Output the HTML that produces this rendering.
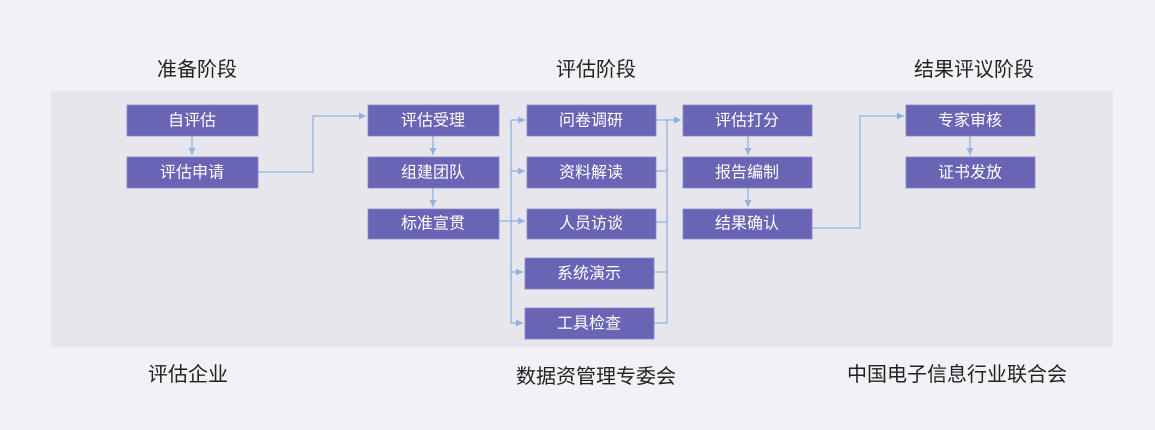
<!DOCTYPE html>
<html><head><meta charset="utf-8"><style>
html,body{margin:0;padding:0;background:#f2f1f6;}
svg{display:block;font-family:"Liberation Sans","Noto Sans CJK SC",sans-serif;}
.b{fill:#6866b4;stroke:#8a88cc;stroke-width:0.8}
.t{fill:#fff;font-size:16px;text-anchor:middle;dominant-baseline:central}
.h{fill:#222;font-size:20px;text-anchor:middle;dominant-baseline:central}
.l{stroke:#90b2e0;stroke-width:1.3;fill:none}
</style></head><body>
<svg width="1155" height="430" viewBox="0 0 1155 430">
<defs><marker id="a" markerWidth="8" markerHeight="8" refX="7" refY="4" orient="auto" markerUnits="userSpaceOnUse"><path d="M0,0.5 L7,4 L0,7.5z" fill="#90b2e0"/></marker></defs>
<rect x="0" y="0" width="1155" height="430" fill="#f2f1f6"/>
<rect x="51" y="91" width="1062" height="256" fill="#e7e6ec"/>
<text class="h" x="197" y="70">准备阶段</text>
<text class="h" x="596" y="70">评估阶段</text>
<text class="h" x="974" y="70">结果评议阶段</text>
<text class="h" x="188" y="375">评估企业</text>
<text class="h" x="596" y="377">数据资管理专委会</text>
<text class="h" x="957" y="375">中国电子信息行业联合会</text>
<path class="l" d="M192,136 V155" marker-end="url(#a)"/>
<path class="l" d="M258,172 H313 V116 H366" marker-end="url(#a)"/>
<path class="l" d="M433,136 V155" marker-end="url(#a)"/>
<path class="l" d="M433,188 V207" marker-end="url(#a)"/>
<path class="l" d="M499,221 H525" marker-end="url(#a)"/>
<path class="l" d="M511,120 V323"/>
<path class="l" d="M511,120 H525" marker-end="url(#a)"/>
<path class="l" d="M511,171 H525" marker-end="url(#a)"/>
<path class="l" d="M511,272 H523" marker-end="url(#a)"/>
<path class="l" d="M511,323 H523" marker-end="url(#a)"/>
<path class="l" d="M656,120 H667 V323"/>
<path class="l" d="M656,171 H667 M656,222 H667 M654,272 H667 M654,323 H667"/>
<path class="l" d="M667,120 H681" marker-end="url(#a)"/>
<path class="l" d="M748,136 V155" marker-end="url(#a)"/>
<path class="l" d="M748,188 V207" marker-end="url(#a)"/>
<path class="l" d="M812,228 H860 V116 H904" marker-end="url(#a)"/>
<path class="l" d="M970,136 V155" marker-end="url(#a)"/>
<rect class="b" x="127" y="105" width="131" height="31"/><text class="t" x="192" y="121">自评估</text>
<rect class="b" x="127" y="157" width="131" height="31"/><text class="t" x="192" y="173">评估申请</text>
<rect class="b" x="368" y="105" width="131" height="31"/><text class="t" x="433" y="121">评估受理</text>
<rect class="b" x="368" y="157" width="131" height="31"/><text class="t" x="433" y="173">组建团队</text>
<rect class="b" x="368" y="209" width="131" height="30"/><text class="t" x="433" y="224">标准宣贯</text>
<rect class="b" x="527" y="105" width="129" height="31"/><text class="t" x="591" y="121">问卷调研</text>
<rect class="b" x="527" y="157" width="129" height="31"/><text class="t" x="591" y="173">资料解读</text>
<rect class="b" x="527" y="209" width="129" height="30"/><text class="t" x="591" y="224">人员访谈</text>
<rect class="b" x="525" y="258" width="129" height="31"/><text class="t" x="589" y="274">系统演示</text>
<rect class="b" x="525" y="308" width="129" height="31"/><text class="t" x="589" y="324">工具检查</text>
<rect class="b" x="683" y="105" width="129" height="31"/><text class="t" x="747" y="121">评估打分</text>
<rect class="b" x="683" y="157" width="129" height="31"/><text class="t" x="747" y="173">报告编制</text>
<rect class="b" x="683" y="209" width="129" height="30"/><text class="t" x="747" y="224">结果确认</text>
<rect class="b" x="906" y="105" width="129" height="31"/><text class="t" x="970" y="121">专家审核</text>
<rect class="b" x="906" y="157" width="129" height="31"/><text class="t" x="970" y="173">证书发放</text>
</svg>
</body></html>
